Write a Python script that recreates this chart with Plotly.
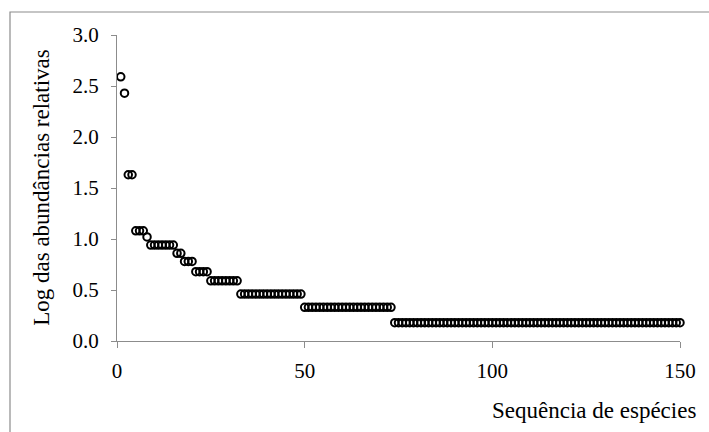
import plotly.graph_objects as go

# Rank-abundance data: log relative abundance per species rank
levels = [2.59, 2.43, 1.63, 1.08, 1.02, 0.94, 0.86, 0.78, 0.68, 0.59, 0.46, 0.33, 0.18]
counts = [1, 1, 2, 3, 1, 7, 2, 3, 4, 8, 17, 24, 77]

log_abund = []
for lv, n in zip(levels, counts):
    log_abund.extend([lv] * n)
species_rank = list(range(1, len(log_abund) + 1))

x_ticks = [0, 50, 100, 150]
y_ticks = [0.0, 0.5, 1.0, 1.5, 2.0, 2.5, 3.0]

serif = "Liberation Serif"
axis_grey = "#8c8c8c"

fig = go.Figure()
fig.add_trace(go.Scatter(
    x=species_rank,
    y=log_abund,
    mode="markers",
    marker=dict(symbol="circle-open", size=7.5, color="black",
                line=dict(width=2, color="black")),
    cliponaxis=False,
    showlegend=False,
))

fig.update_layout(
    width=709, height=432,
    margin=dict(l=117, r=29, t=35, b=91),
    paper_bgcolor="white", plot_bgcolor="white",
    font=dict(family=serif, color="black", size=21),
    xaxis=dict(
        range=[0, 150], tickvals=x_ticks, ticktext=[str(v) for v in x_ticks],
        showgrid=False, zeroline=False, showline=True, linecolor=axis_grey, linewidth=1,
        ticks="outside", ticklen=6, tickcolor=axis_grey, ticklabelstandoff=5,
        tickfont=dict(family=serif, size=21, color="black"),
    ),
    yaxis=dict(
        range=[0, 3], tickvals=y_ticks, ticktext=[f"{v:.1f}" for v in y_ticks],
        showgrid=False, zeroline=False, showline=True, linecolor=axis_grey, linewidth=1,
        ticks="outside", ticklen=5, tickcolor=axis_grey, ticklabelstandoff=8,
        tickfont=dict(family=serif, size=21, color="black"),
    ),
    annotations=[
        dict(text="Sequência de espécies", xref="paper", yref="paper",
             x=1.0 + 18 / 563, y=-69 / 306, xanchor="right", yanchor="middle",
             showarrow=False, font=dict(family=serif, size=23, color="black")),
        dict(text="Log das abundâncias relativas", xref="paper", yref="paper",
             x=-75 / 563, y=(340.7 - 187.5) / 306, xanchor="center", yanchor="middle",
             textangle=-90, showarrow=False,
             font=dict(family=serif, size=23, color="black")),
    ],
    shapes=[
        dict(type="rect", xref="paper", yref="paper",
             x0=-107 / 563, y0=-120 / 306, x1=1.0 + 60 / 563, y1=1.0 + 23 / 306,
             line=dict(color=axis_grey, width=1.2), layer="below"),
    ],
)

fig.write_html("out.html")
